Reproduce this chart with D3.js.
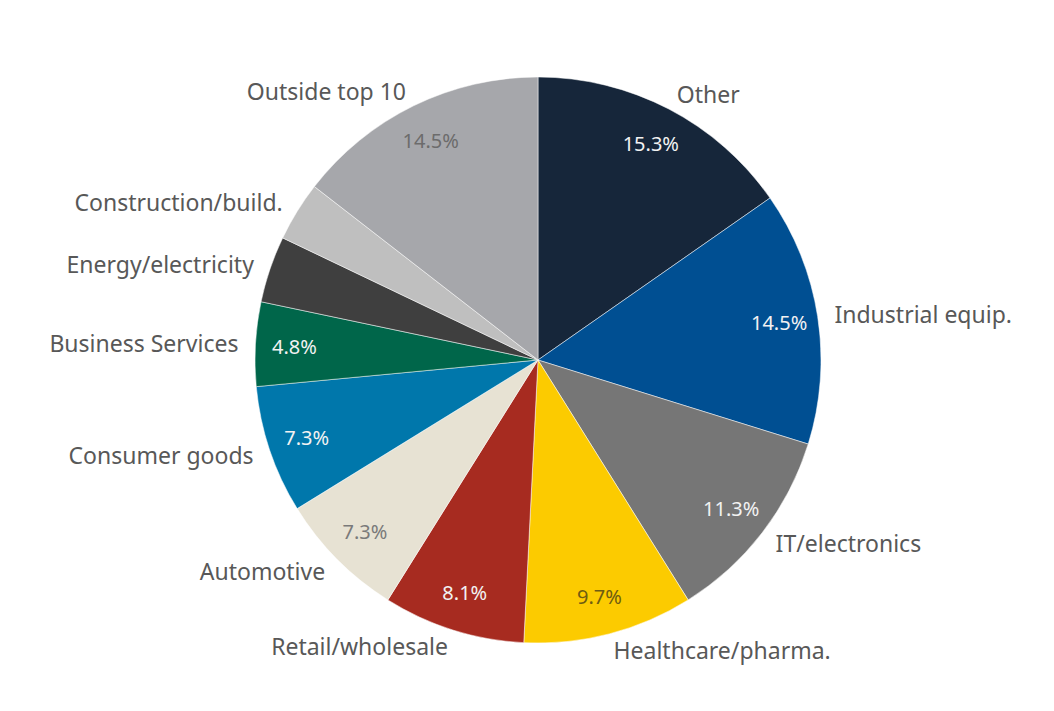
<!DOCTYPE html>
<html lang="en">
<head>
<meta charset="utf-8">
<title>Sector pie</title>
<script src="https://d3js.org/d3.v7.min.js"></script>
<style>
  body { margin: 0; background: #fff; }
  text { font-family: "Noto Sans", "Open Sans", sans-serif; }
</style>
</head>
<body>
<div id="chart"></div>
<script>
// data, clockwise from 12 o'clock
var sectors = ["Other", "Industrial equip.", "IT/electronics", "Healthcare/pharma.",
  "Retail/wholesale", "Automotive", "Consumer goods", "Business Services",
  "Energy/electricity", "Construction/build.", "Outside top 10"]
var shares = [15.3, 14.5, 11.3, 9.7, 8.1, 7.3, 7.3, 4.8, 3.8, 3.4, 14.5]
var shownPct = ["15.3%", "14.5%", "11.3%", "9.7%", "8.1%", "7.3%", "7.3%", "4.8%", "", "", "14.5%"]

var sliceColors = ["#16263a", "#004f92", "#767676", "#fccb00", "#a72b20", "#e7e2d3",
  "#0077ab", "#00664a", "#3f3f3f", "#bfbfbf", "#a6a7ab"]
var pctColors = ["#f2f2f2", "#f2f2f2", "#f2f2f2", "#6e5c12", "#f2f2f2", "#7a7a7a",
  "#f2f2f2", "#f2f2f2", "#f2f2f2", "#f2f2f2", "#6c6c6c"]

var width = 1054, height = 711
var cx = 538, cy = 360, radius = 283

var svg = d3.select("#chart").append("svg")
  .attr("width", width)
  .attr("height", height)

var rows = sectors.map(function(s, i){ return {name: s, value: shares[i], pct: shownPct[i], i: i} })

var pie = d3.pie().sort(null).value(function(d){ return d.value })
var arcs = pie(rows)

var color = d3.scaleOrdinal().domain(sectors).range(sliceColors)

var arc = d3.arc().innerRadius(0).outerRadius(radius)
var pctArc = d3.arc().innerRadius(244).outerRadius(244)
var nameArc = d3.arc().innerRadius(300).outerRadius(300)

var g = svg.append("g").attr("transform", "translate(" + cx + "," + cy + ")")

g.selectAll("path")
  .data(arcs)
  .enter()
  .append("path")
    .attr("d", arc)
    .attr("fill", function(d){ return color(d.data.name) })
    .attr("stroke", "#ffffff")
    .attr("stroke-width", 0.5)

// percentages inside the slices
g.selectAll("text.pct")
  .data(arcs.filter(function(d){ return d.data.pct !== "" }))
  .enter()
  .append("text")
    .attr("class", "pct")
    .attr("transform", function(d){ return "translate(" + pctArc.centroid(d) + ")" })
    .attr("text-anchor", "middle")
    .attr("dominant-baseline", "central")
    .attr("font-size", 20)
    .attr("fill", function(d){ return pctColors[d.data.i] })
    .text(function(d){ return d.data.pct })

// category names outside
g.selectAll("text.name")
  .data(arcs)
  .enter()
  .append("text")
    .attr("class", "name")
    .attr("transform", function(d){ return "translate(" + nameArc.centroid(d) + ")" })
    .attr("text-anchor", function(d){ return nameArc.centroid(d)[0] >= 0 ? "start" : "end" })
    .attr("dominant-baseline", "central")
    .attr("font-size", 23)
    .attr("fill", "#585858")
    .text(function(d){ return d.data.name })
</script>
</body>
</html>
